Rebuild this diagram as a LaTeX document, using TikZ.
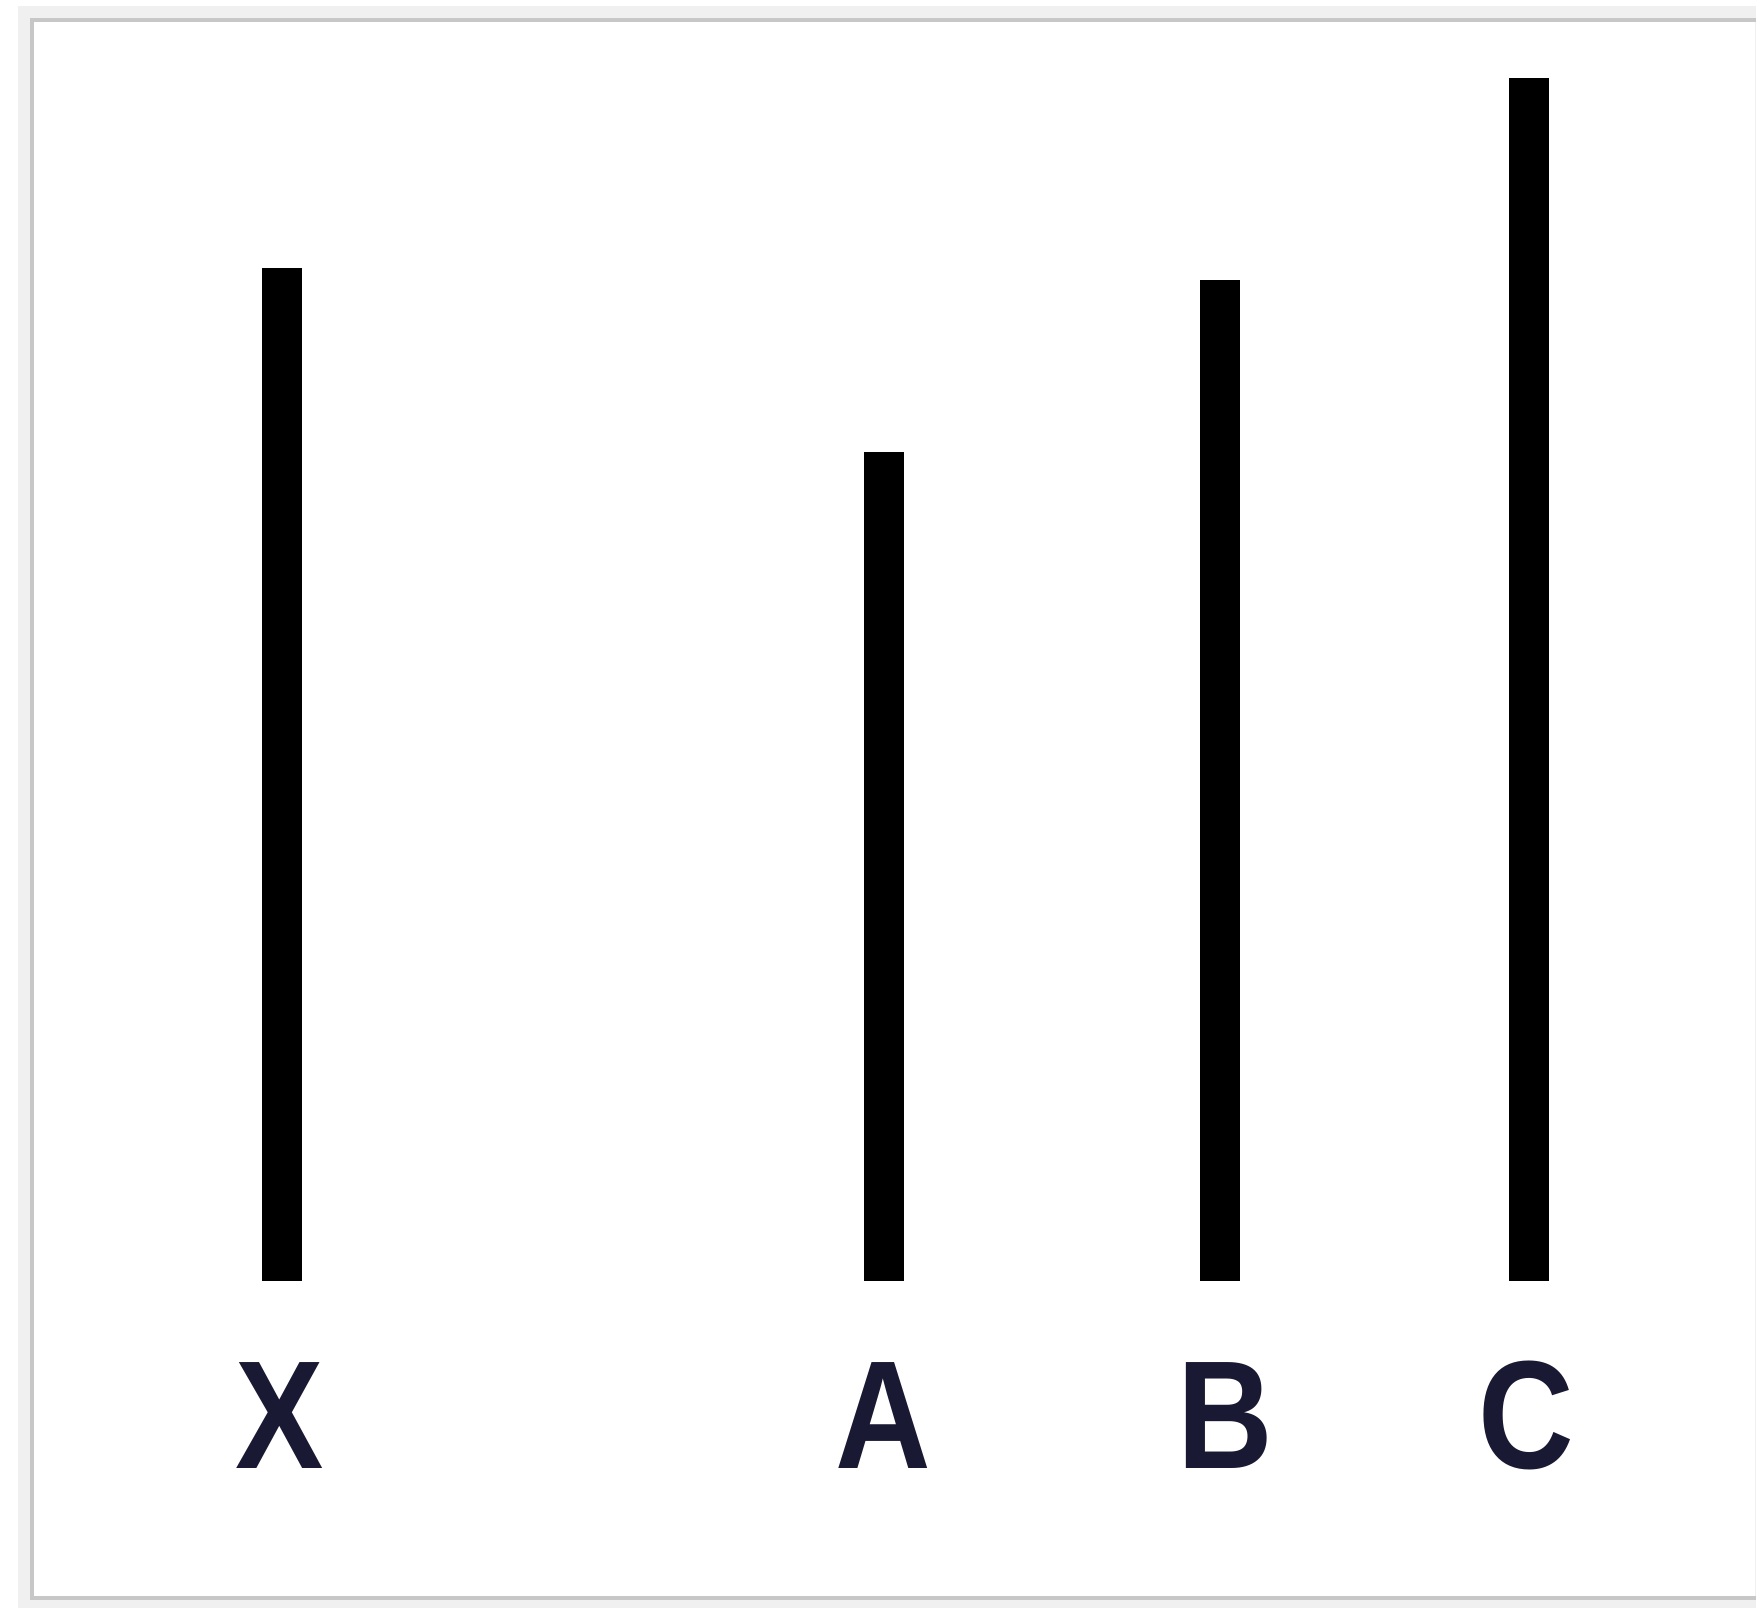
\documentclass[tikz,border=0pt]{standalone}
\usepackage{fontspec}
\usepackage{graphicx}
\setmainfont{Liberation Sans}
\definecolor{labelink}{rgb}{0.10,0.10,0.20}
\definecolor{frameink}{gray}{0.78}
\newcommand{\narrowlbl}[1]{\scalebox{0.86}[1]{#1}}
\begin{document}
\begin{tikzpicture}[x=1pt,y=-1pt,
  bar/.style={line width=40pt,black,line cap=butt},
  lbl/.style={anchor=base,inner sep=0pt,text=labelink,font=\fontsize{154}{160}\selectfont\bfseries}]
\useasboundingbox (0,0) rectangle (1756,1608);
\fill[white] (0,0) rectangle (1756,1608);
% frame
\draw[line width=14pt,gray!12] (25,13) rectangle (1762,1605);
\draw[line width=4pt,frameink] (32,20) rectangle (1760,1598);
% bars
\coordinate (xt) at (282,268);  \coordinate (xb) at (282,1281);
\coordinate (at) at (884,452);  \coordinate (ab) at (884,1281);
\coordinate (bt) at (1220,280); \coordinate (bb) at (1220,1281);
\coordinate (ct) at (1529,78);  \coordinate (cb) at (1529,1281);
\draw[bar] (xt) -- (xb);
\draw[bar] (at) -- (ab);
\draw[bar] (bt) -- (bb);
\draw[bar] (ct) -- (cb);
% labels
\node[lbl] (lx) at (280,1468) {\narrowlbl{X}};
\node[lbl] (la) at (883,1468) {\narrowlbl{A}};
\node[lbl] (lb) at (1225,1468) {\narrowlbl{B}};
\node[lbl] (lc) at (1526,1468) {\narrowlbl{C}};
\end{tikzpicture}
\end{document}
